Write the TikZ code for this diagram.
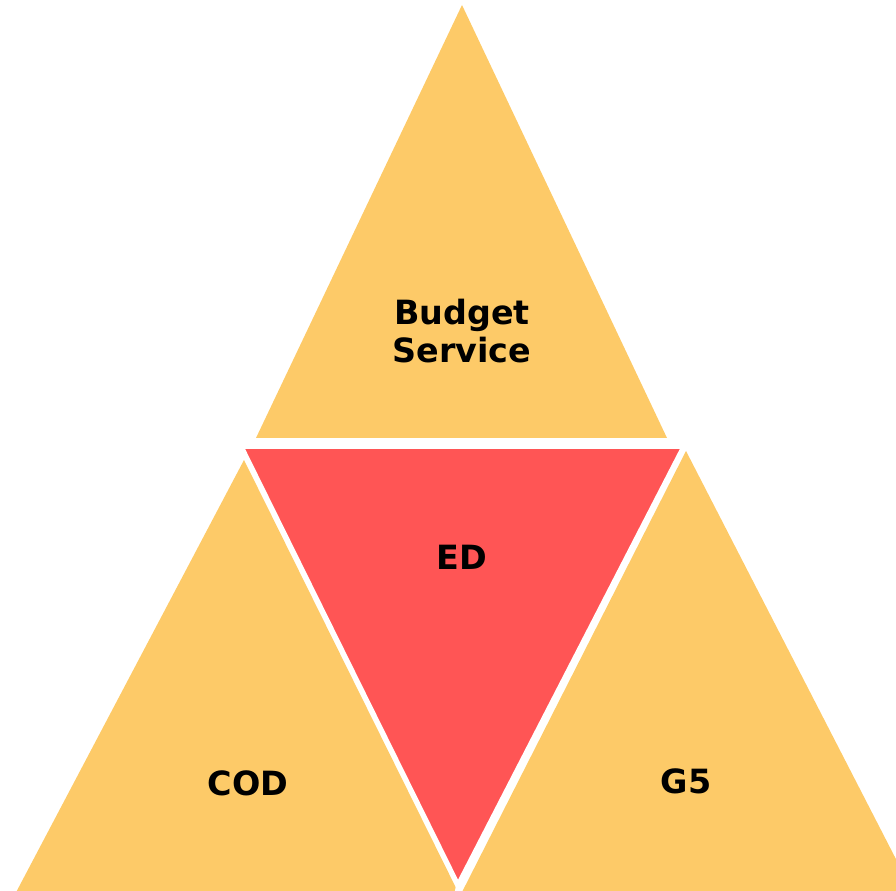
\documentclass[tikz,border=0pt]{standalone}
\usepackage{fontspec}
\setmainfont{DejaVu Sans}
\definecolor{sideyellow}{RGB}{253,202,104}
\definecolor{edred}{RGB}{255,85,85}
\tikzset{
  part/.style={fill=sideyellow},
  lbl/.style={font=\bfseries\fontsize{19}{21.5}\selectfont, align=center, text=black}
}

\begin{document}
\begin{tikzpicture}[x=0.02cm,y=-0.02cm]

\useasboundingbox (0,0) rectangle (896,891);
\clip (0,0) rectangle (896,891);

% outer triangles
\fill[part] (462,5) -- (256,438) -- (667,438) -- cycle;
\fill[part] (244,460) -- (12,900) -- (462,900) -- cycle;
\fill[part] (686,451) -- (458,900) -- (917,900) -- cycle;

% inner triangle
\filldraw[fill=edred, draw=white, line width=2.2pt, line join=miter] 
(242,447) -- (683,447) -- (458,884) -- cycle;
\draw[white, line width=2pt] (458,884) -- (456,895);

\node[lbl] (budget) at (462,331) {Budget\\Service};
\node[lbl] (ed) at (462,557) {ED};
\node[lbl] (cod) at (248,783) {COD};
\node[lbl] (gfive) at (686,781) {G5};

\end{tikzpicture}
\end{document}
